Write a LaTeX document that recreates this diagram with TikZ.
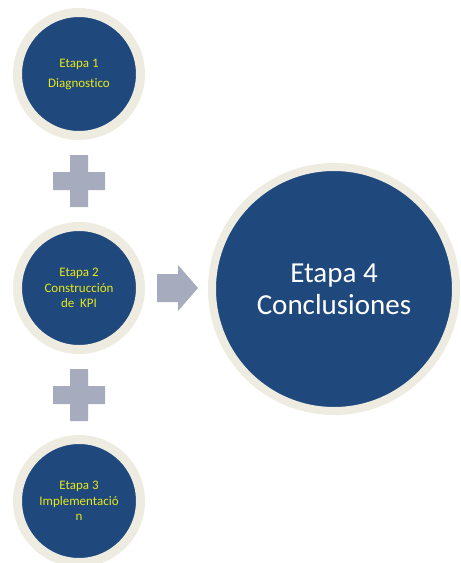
\documentclass[tikz,border=0pt]{standalone}
\usepackage{fontspec}
\setmainfont{Carlito}[Ligatures={NoCommon,NoRare}]
\usetikzlibrary{backgrounds}
\definecolor{stageblue}{RGB}{31,73,125}
\definecolor{ringbeige}{RGB}{238,236,225}
\definecolor{opgray}{RGB}{166,172,189}
\definecolor{labelyellow}{RGB}{232,232,24}
\tikzset{
  stagecircle/.style={circle, fill=stageblue, draw=ringbeige, line width=9pt,
    minimum size=123pt, inner sep=0pt, align=center,
    font=\fontsize{13}{15.5}\selectfont, text=labelyellow},
  bigcircle/.style={circle, fill=stageblue, draw=ringbeige, line width=8pt,
    minimum size=244pt, inner sep=0pt, align=center,
    font=\fontsize{29}{32}\selectfont, text=white},
  opshape/.style={fill=opgray},
  softshadow/.style={fill=black, opacity=0.07}
}
\begin{document}
\begin{tikzpicture}[x=1pt,y=-1pt]
\useasboundingbox (0,0) rectangle (461,563);
\fill[white] (0,0) rectangle (461,563);

\node[stagecircle] (s1) at (79,74) {Etapa 1\\[4.5pt]Diagnostico};
\node[stagecircle] (s2) at (79,288) {Etapa 2\\Construcción\\de\ \ KPI};
\node[stagecircle] (s3) at (79,501) {Etapa 3\\Implementació\\n};
\node[bigcircle] (s4) at (334,289) {Etapa 4\\Conclusiones};

\coordinate (p1) at (79,181);
\coordinate (p2) at (79,395);
\coordinate (ar) at (177,288);

\begin{scope}[on background layer]
  \foreach \n/\r in {s1/66, s2/66, s3/66, s4/126}{
    \fill[softshadow] (\n.center) ++(0,3) circle[radius=\r+1];
    \fill[softshadow] (\n.center) ++(0,4) circle[radius=\r+2];
    \fill[softshadow] (\n.center) ++(0,2) circle[radius=\r];
  }
  \foreach \p in {p1,p2}{
    \fill[softshadow] (\p) ++(1,2) +(-9,-26) -- +(9,-26) -- +(9,-9) -- +(26,-9) -- +(26,9) -- +(9,9)
      -- +(9,26) -- +(-9,26) -- +(-9,9) -- +(-26,9) -- +(-26,-9) -- +(-9,-9) -- cycle;
  }
  \fill[softshadow] (ar) ++(1,2) +(-20,-14) -- +(1,-14) -- +(1,-23) -- +(21,0) -- +(1,23) -- +(1,14) -- +(-20,14) -- cycle;
\end{scope}

\foreach \p in {p1,p2}{
  \fill[opshape] (\p) +(-9,-26) -- +(9,-26) -- +(9,-9) -- +(26,-9) -- +(26,9) -- +(9,9)
    -- +(9,26) -- +(-9,26) -- +(-9,9) -- +(-26,9) -- +(-26,-9) -- +(-9,-9) -- cycle;
}
\fill[opshape] (ar) +(-20,-14) -- +(1,-14) -- +(1,-23) -- +(21,0) -- +(1,23) -- +(1,14) -- +(-20,14) -- cycle;
\end{tikzpicture}
\end{document}
